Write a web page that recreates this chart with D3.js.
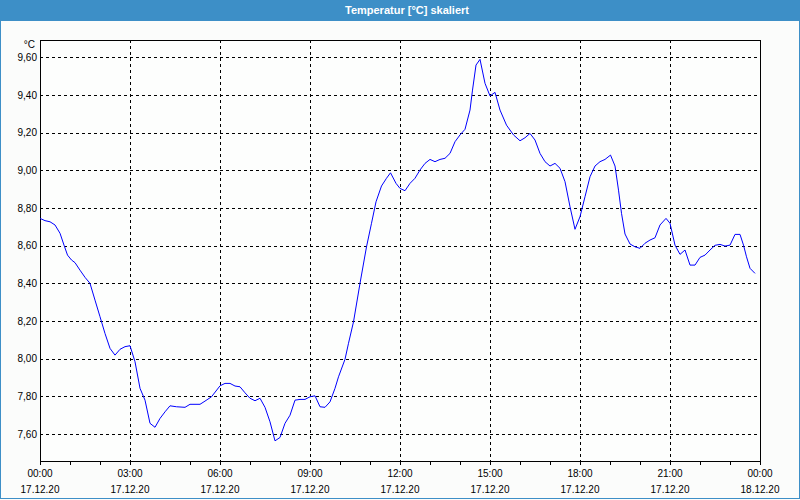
<!DOCTYPE html>
<html><head><meta charset="utf-8">
<script src="https://cdn.jsdelivr.net/npm/d3@7"></script>
<style>
body{margin:0;background:#fbfcfb;}
svg{display:block;font-family:"Liberation Sans",Arial,sans-serif;}
</style>
</head><body>
<svg id="chart" width="800" height="500"></svg>
<script>
// ---- data ----
const titleText = "Temperatur [°C] skaliert";
const unitLabel = "°C";
// minutes since 17.12.20 00:00
const minutes = [0,10,20,30,40,48,55,63,70,80,90,100,110,120,130,140,150,160,170,180,190,200,210,220,230,240,250,260,273,290,300,320,330,343,360,370,380,390,400,410,420,430,440,450,460,470,480,490,500,510,520,530,540,550,560,570,580,590,597,610,617,627,640,653,663,672,683,693,701,712,720,730,740,750,760,770,780,790,800,810,820,830,840,850,860,865,872,880,890,900,910,920,933,947,960,970,980,990,1000,1010,1020,1030,1040,1050,1060,1070,1080,1090,1100,1110,1120,1130,1141,1150,1157,1163,1170,1180,1190,1200,1210,1220,1230,1240,1252,1260,1270,1280,1290,1300,1310,1320,1330,1340,1350,1360,1370,1380,1390,1400,1407,1413,1420,1430];
const temps = [8.745,8.733,8.727,8.71,8.666,8.603,8.55,8.524,8.51,8.47,8.432,8.40,8.311,8.223,8.134,8.055,8.019,8.05,8.064,8.069,7.984,7.843,7.78,7.657,7.636,7.683,7.718,7.75,7.745,7.742,7.758,7.758,7.775,7.798,7.856,7.869,7.869,7.855,7.851,7.819,7.79,7.777,7.79,7.742,7.665,7.564,7.582,7.657,7.70,7.78,7.784,7.784,7.798,7.803,7.745,7.742,7.771,7.843,7.904,7.997,8.082,8.196,8.40,8.594,8.719,8.833,8.917,8.958,8.987,8.931,8.904,8.892,8.931,8.958,9.002,9.037,9.058,9.046,9.058,9.064,9.09,9.152,9.188,9.218,9.32,9.426,9.559,9.589,9.462,9.395,9.414,9.32,9.24,9.188,9.157,9.173,9.196,9.161,9.09,9.046,9.023,9.037,9.011,8.94,8.807,8.687,8.754,8.86,8.966,9.023,9.046,9.058,9.081,9.023,8.895,8.772,8.662,8.609,8.594,8.586,8.613,8.63,8.642,8.71,8.745,8.719,8.603,8.554,8.577,8.497,8.497,8.538,8.55,8.577,8.602,8.607,8.598,8.603,8.66,8.66,8.603,8.541,8.48,8.453];
const yTicks = [7.6,7.8,8.0,8.2,8.4,8.6,8.8,9.0,9.2,9.4,9.6];
const yDomain = [7.457, 9.692];
const xMajorHours = [0,3,6,9,12,15,18,21,24];
const xMinorHours = d3.range(0,25,1);

// ---- layout ----
const svg = d3.select("#chart");
const W = 800, H = 500;
const L = 40, R = 760, T = 40, B = 461;
const start = new Date(2020,11,17,0,0);
const toDate = m => new Date(start.getTime() + m*60000);

const x = d3.scaleTime().domain([start, toDate(1440)]).range([L, R]);
const y = d3.scaleLinear().domain(yDomain).range([B, T]);
const de = d3.formatLocale({decimal:",", thousands:".", grouping:[3], currency:["","€"]});
const fmtY = de.format(".2f");
const fmtTime = d3.timeFormat("%H:%M");
const fmtDate = d3.timeFormat("%d.%m.%y");

// background
svg.append("rect").attr("width",W).attr("height",H).attr("fill","#fbfcfb");
// title bar
svg.append("rect").attr("x",0).attr("y",0).attr("width",W).attr("height",21).attr("fill","#3d8fc7");
svg.append("text").attr("x",W/2+7).attr("y",14).attr("text-anchor","middle")
  .attr("fill","#fff").attr("font-weight","bold").attr("font-size","11px").text(titleText);
// outer border
svg.append("rect").attr("x",0.5).attr("y",0.5).attr("width",W-1).attr("height",H-2)
  .attr("fill","none").attr("stroke","#3d8fc7").attr("stroke-width",1);

// plot area
svg.append("rect").attr("x",L).attr("y",T).attr("width",R-L).attr("height",B-T).attr("fill","#fdfefd");

// horizontal grid
svg.append("g").selectAll("line").data(yTicks).join("line")
  .attr("x1",L).attr("x2",R)
  .attr("y1",d=>Math.round(y(d))+0.5).attr("y2",d=>Math.round(y(d))+0.5)
  .attr("stroke","#000").attr("stroke-dasharray","3,3").attr("shape-rendering","crispEdges");
// vertical grid
svg.append("g").selectAll("line").data(xMajorHours.slice(1,-1)).join("line")
  .attr("x1",d=>Math.round(x(toDate(d*60)))+0.5).attr("x2",d=>Math.round(x(toDate(d*60)))+0.5)
  .attr("y1",T).attr("y2",B)
  .attr("stroke","#000").attr("stroke-dasharray","3,3").attr("shape-rendering","crispEdges");

// y labels
svg.append("g").selectAll("text").data(yTicks).join("text")
  .attr("x",37).attr("y",d=>y(d)+3.5).attr("text-anchor","end")
  .attr("font-size","10px").attr("fill","#000").text(d=>fmtY(d));
svg.append("text").attr("x",35).attr("y",48).attr("text-anchor","end")
  .attr("font-size","10px").attr("fill","#000").text(unitLabel);

// x axis ticks
const xAxis = d3.axisBottom(x).tickValues(xMinorHours.map(h=>toDate(h*60))).tickSize(4).tickSizeOuter(0).tickFormat("");
const gx = svg.append("g").attr("transform",`translate(0,${B})`).call(xAxis);
gx.select(".domain").remove();
gx.selectAll("line").attr("stroke","#000").attr("shape-rendering","crispEdges");

// x labels
const lab = svg.append("g").selectAll("g").data(xMajorHours).join("g");
lab.append("text").attr("x",d=>x(toDate(d*60))).attr("y",477).attr("text-anchor","middle")
  .attr("font-size","10px").attr("fill","#000").text(d=>fmtTime(toDate(d*60)));
lab.append("text").attr("x",d=>x(toDate(d*60))).attr("y",493).attr("text-anchor","middle")
  .attr("font-size","10px").attr("fill","#000").text(d=>fmtDate(toDate(d*60)));

// frame
svg.append("rect").attr("x",L+0.5).attr("y",T+0.5).attr("width",R-L).attr("height",B-T)
  .attr("fill","none").attr("stroke","#000").attr("shape-rendering","crispEdges");

// line
const pts = minutes.map((m,i)=>({t:toDate(m), v:temps[i]}));
svg.append("path").datum(pts)
  .attr("d", d3.line().x(d=>x(d.t)).y(d=>y(d.v)))
  .attr("fill","none").attr("stroke","#0000ff").attr("stroke-width",1);
</script>
</body></html>
